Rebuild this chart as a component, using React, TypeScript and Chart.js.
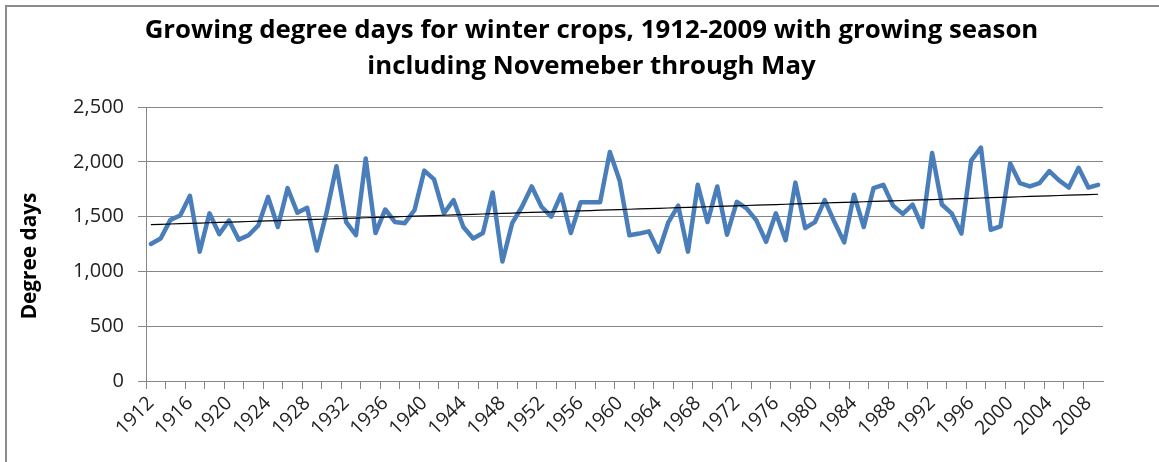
import React, { useEffect, useRef } from "react";
import { Chart, registerables } from "chart.js";

Chart.register(...registerables);

const years: string[] = [
  "1912", "1913", "1914", "1915", "1916", "1917", "1918", "1919", "1920", "1921",
  "1922", "1923", "1924", "1925", "1926", "1927", "1928", "1929", "1930", "1931",
  "1932", "1933", "1934", "1935", "1936", "1937", "1938", "1939", "1940", "1941",
  "1942", "1943", "1944", "1945", "1946", "1947", "1948", "1949", "1950", "1951",
  "1952", "1953", "1954", "1955", "1956", "1957", "1958", "1959", "1960", "1961",
  "1962", "1963", "1964", "1965", "1966", "1967", "1968", "1969", "1970", "1971",
  "1972", "1973", "1974", "1975", "1976", "1977", "1978", "1979", "1980", "1981",
  "1982", "1983", "1984", "1985", "1986", "1987", "1988", "1989", "1990", "1991",
  "1992", "1993", "1994", "1995", "1996", "1997", "1998", "1999", "2000", "2001",
  "2002", "2003", "2004", "2005", "2006", "2007", "2008", "2009",
];

const degreeDays: number[] = [
  1250, 1300, 1470, 1510, 1690, 1180, 1530, 1340, 1465, 1290,
  1330, 1420, 1680, 1405, 1760, 1535, 1580, 1190, 1540, 1960,
  1450, 1330, 2030, 1350, 1565, 1450, 1440, 1560, 1920, 1840,
  1530, 1650, 1405, 1300, 1350, 1720, 1090, 1440, 1590, 1775,
  1590, 1500, 1700, 1350, 1630, 1630, 1630, 2090, 1830, 1330,
  1345, 1365, 1180, 1450, 1600, 1180, 1790, 1450, 1775, 1335,
  1635, 1575, 1465, 1270, 1530, 1285, 1810, 1395, 1450, 1650,
  1450, 1265, 1700, 1405, 1760, 1790, 1600, 1525, 1610, 1405,
  2080, 1610, 1530, 1345, 2010, 2130, 1380, 1410, 1985, 1805,
  1775, 1805, 1915, 1830, 1765, 1945, 1765, 1790,
];

const yTickValues: number[] = [0, 500, 1000, 1500, 2000, 2500];

const titleLines: string[] = [
  "Growing degree days for winter crops, 1912-2009 with growing season",
  "including Novemeber through May",
];
const yAxisTitle = "Degree days";

function linearTrend(values: number[]): number[] {
  const n = values.length;
  let sx = 0, sy = 0, sxx = 0, sxy = 0;
  values.forEach((v, i) => {
    sx += i; sy += v; sxx += i * i; sxy += i * v;
  });
  const slope = (n * sxy - sx * sy) / (n * sxx - sx * sx);
  const intercept = (sy - slope * sx) / n;
  return values.map((_, i) => intercept + slope * i);
}

const W = 1159;
const H = 462;
const GRID = "#868686";
const FONT = '"Open Sans", "DejaVu Sans", sans-serif';

export default function App() {
  const ref = useRef<HTMLCanvasElement | null>(null);

  useEffect(() => {
    if (!ref.current) return;
    const trend = linearTrend(degreeDays);

    const textPlugin = {
      id: "customTexts",
      afterDraw(chart: any) {
        const ctx = chart.ctx as CanvasRenderingContext2D;
        ctx.save();
        ctx.fillStyle = "#000";
        ctx.textAlign = "center";
        ctx.textBaseline = "alphabetic";
        ctx.font = `bold 25.8px ${FONT}`;
        ctx.fillText(titleLines[0], 591.5, 38);
        ctx.fillText(titleLines[1], 591.5, 73.5);
        ctx.translate(35.5, 256);
        ctx.rotate(-Math.PI / 2);
        ctx.font = `bold 20.8px ${FONT}`;
        ctx.fillText(yAxisTitle, 0, 0);
        ctx.restore();
      },
    };

    const chart = new Chart(ref.current, {
      type: "line",
      data: {
        labels: years,
        datasets: [
          {
            label: "Linear trend",
            data: trend,
            borderColor: "#000000",
            borderWidth: 1.2,
            pointRadius: 0,
            fill: false,
            tension: 0,
          },
          {
            label: "Degree days",
            data: degreeDays,
            borderColor: "#4A7EBB",
            borderWidth: 4.5,
            pointRadius: 0,
            fill: false,
            tension: 0,
            borderJoinStyle: "round",
            borderCapStyle: "round",
          },
        ],
      },
      options: {
        responsive: false,
        animation: false,
        layout: { padding: { left: 0, right: 56, top: 107, bottom: 0 } },
        plugins: {
          legend: { display: false },
          title: { display: false },
          tooltip: { enabled: false },
        },
        scales: {
          x: {
            type: "category",
            offset: true,
            grid: {
              offset: true,
              drawOnChartArea: false,
              drawTicks: true,
              tickLength: 8,
              color: (ctx: any) => (ctx.index % 2 === 0 ? GRID : "rgba(0,0,0,0)"),
            },
            border: { display: true, color: GRID, width: 1 },
            ticks: {
              autoSkip: false,
              minRotation: 45,
              maxRotation: 45,
              padding: 3,
              color: "#222",
              font: { family: FONT, size: 19.5 },
              callback: (_v: any, i: number) => (i % 4 === 0 ? years[i] : ""),
            },
            afterFit: (scale: any) => {
              scale.height = 81;
            },
          },
          y: {
            min: 0,
            max: 2500,
            afterBuildTicks: (scale: any) => {
              scale.ticks = yTickValues.map((v) => ({ value: v }));
            },
            grid: {
              color: GRID,
              lineWidth: 1,
              drawTicks: true,
              tickLength: 8,
            },
            border: { display: true, color: GRID, width: 1 },
            ticks: {
              padding: 14,
              color: "#222",
              font: { family: FONT, size: 20 },
              callback: (v: any) => Number(v).toLocaleString("en-US"),
            },
            afterFit: (scale: any) => {
              scale.width = 146;
            },
          },
        },
      },
      plugins: [textPlugin],
    });

    return () => chart.destroy();
  }, []);

  return (
    <div style={{ position: "absolute", left: 0, top: 0, width: W, height: H, background: "#fff", overflow: "hidden" }}>
      <div
        style={{
          position: "absolute",
          left: 5,
          top: 5,
          width: W,
          height: H,
          borderTop: "2px solid #8c8c8c",
          borderLeft: "2px solid #8c8c8c",
        }}
      />
      <canvas ref={ref} width={W} height={H} style={{ position: "absolute", left: 0, top: 0, width: W, height: H }} />
    </div>
  );
}
